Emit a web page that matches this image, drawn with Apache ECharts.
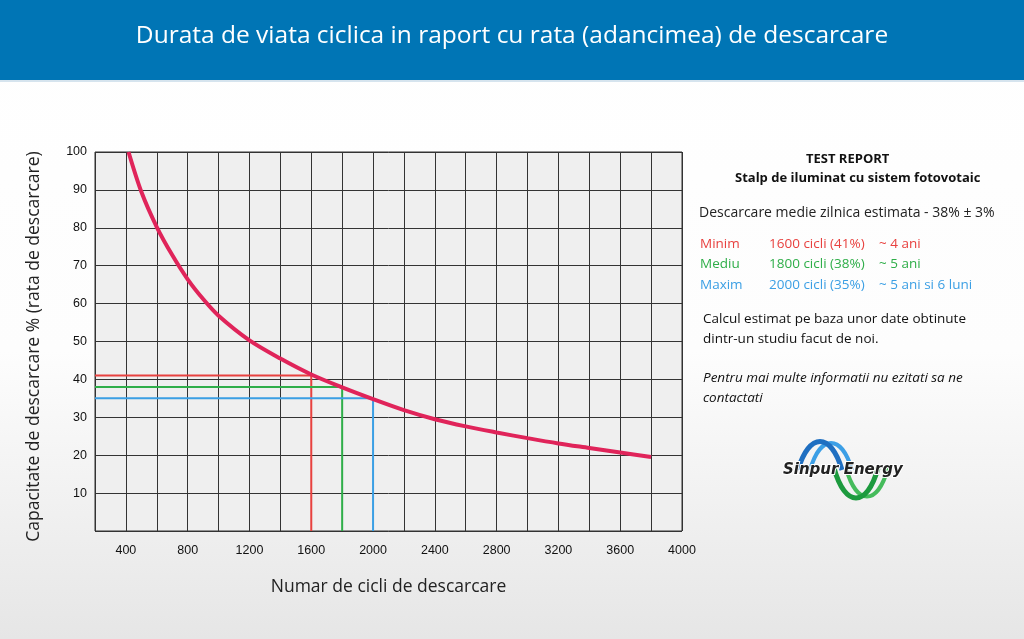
<!DOCTYPE html>
<html>
<head>
<meta charset="utf-8">
<script src="https://cdn.jsdelivr.net/npm/echarts@6/dist/echarts.min.js"></script>
<style>
  html, body { margin: 0; padding: 0; }
  #main { width: 1024px; height: 639px; }
</style>
</head>
<body>
<div id="main"></div>
<script>
// date
var cicli = [417, 500, 600, 700, 800, 900, 1000, 1200, 1400, 1600, 1800, 2000, 2200, 2400, 2600, 2800, 3000, 3200, 3400, 3600, 3800];
var capacitate = [100, 89.5, 80.2, 72.8, 66.4, 61.2, 56.8, 50.3, 45.5, 41.3, 37.9, 34.8, 31.9, 29.5, 27.6, 26.0, 24.5, 23.1, 21.9, 20.7, 19.5];

var refNume = ['Minim', 'Mediu', 'Maxim'];
var refCicli = [1600, 1800, 2000];
var refProcent = [41, 38, 35];
var refDurata = ['~ 4 ani', '~ 5 ani', '~ 5 ani si 6 luni'];
var refCulori = ['#e8413f', '#2fae49', '#3b9fe4'];

var xMin = 200, xMax = 4000;
var yTicks = [10, 20, 30, 40, 50, 60, 70, 80, 90, 100];

var myChart = echarts.init(document.getElementById('main'));

var curba = [];
for (var i = 0; i < cicli.length; i++) {
    curba.push([cicli[i], capacitate[i]]);
}

var series = [];
// liniile de referinta (orizontal pana la curba, apoi vertical in jos)
for (var k = 0; k < refCicli.length; k++) {
    series.push({
        type: 'line',
        name: refNume[k],
        symbol: 'none',
        z: 2,
        lineStyle: { color: refCulori[k], width: 2 },
        data: [[xMin, refProcent[k]], [refCicli[k], refProcent[k]], [refCicli[k], 0]]
    });
}
series.push({
    type: 'line',
    name: 'curba',
    symbol: 'none',
    smooth: 0.3,
    z: 3,
    lineStyle: { color: '#e0245a', width: 4 },
    data: curba
});

// textul din dreapta
var panou = [
    { type: 'text', left: 806, top: 153, style: { text: 'TEST REPORT', font: 'bold 13px "Open Sans"', fill: '#111' } },
    { type: 'text', left: 735, top: 172, style: { text: 'Stalp de iluminat cu sistem fotovotaic', font: 'bold 13px "Open Sans"', fill: '#111' } },
    { type: 'text', left: 699, top: 206, style: { text: 'Descarcare medie zilnica estimata - 38% \u00b1 3%', font: '14px "Open Sans"', fill: '#222' } },
    { type: 'text', left: 703, top: 312, style: { text: 'Calcul estimat pe baza unor date obtinute', font: '13.5px "Open Sans"', fill: '#111' } },
    { type: 'text', left: 703, top: 332, style: { text: 'dintr-un studiu facut de noi.', font: '13.5px "Open Sans"', fill: '#111' } },
    { type: 'text', left: 703, top: 371, style: { text: 'Pentru mai multe informatii nu ezitati sa ne', font: 'italic 13.5px "Open Sans"', fill: '#111' } },
    { type: 'text', left: 703, top: 391, style: { text: 'contactati', font: 'italic 13.5px "Open Sans"', fill: '#111' } }
];
for (var r = 0; r < refNume.length; r++) {
    var yy = 237 + r * 20.5;
    panou.push({ type: 'text', left: 700, top: yy, style: { text: refNume[r], font: '13.5px "Open Sans"', fill: refCulori[r] } });
    panou.push({ type: 'text', left: 769, top: yy, style: { text: refCicli[r] + ' cicli (' + refProcent[r] + '%)', font: '13.5px "Open Sans"', fill: refCulori[r] } });
    panou.push({ type: 'text', left: 879, top: yy, style: { text: refDurata[r], font: '13.5px "Open Sans"', fill: refCulori[r] } });
}

// logo Sinpur Energy (aproximativ, din curbe bezier)
function val(x1, y1, x2, y2, cy, culoare, lat) {
    return {
        type: 'bezierCurve',
        shape: { x1: x1, y1: y1, x2: x2, y2: y2, cpx1: x1 + (x2 - x1) * 0.25, cpy1: cy, cpx2: x1 + (x2 - x1) * 0.75, cpy2: cy },
        style: { stroke: culoare, lineWidth: lat, fill: null }
    };
}
var logo = [
    val(810, 470, 852, 470, 434, '#3c9fe6', 4),
    val(798, 470, 842, 470, 432, '#1f6fc1', 5),
    val(846, 468, 888, 468, 506, '#45bb5b', 4),
    val(834, 468, 878, 468, 508, '#1d9a3e', 5),
    { type: 'text', left: 782, top: 462, z: 10, style: { text: 'Sinpur Energy', font: 'italic bold 15px "DejaVu Sans"', fill: '#222', stroke: '#fff', lineWidth: 2 } }
];

var option = {
    backgroundColor: {
        type: 'linear', x: 0, y: 0, x2: 0, y2: 1,
        colorStops: [
            { offset: 0, color: '#ffffff' },
            { offset: 0.55, color: '#fdfdfd' },
            { offset: 1, color: '#e6e6e6' }
        ]
    },
    animation: false,
    graphic: [
        { type: 'rect', left: 0, top: 0, shape: { width: 1024, height: 80 }, style: { fill: '#0075b5' } },
        { type: 'rect', left: 0, top: 80, shape: { width: 1024, height: 2 }, style: { fill: '#d6e4ee' } },
        { type: 'text', left: 'center', top: 24, style: { text: 'Durata de viata ciclica in raport cu rata (adancimea) de descarcare', font: '24.5px "Open Sans"', fill: '#ffffff' } }
    ].concat(panou).concat(logo),
    grid: {
        left: 95, right: 342, top: 152, bottom: 108,
        show: true,
        backgroundColor: '#efefef',
        borderColor: '#333',
        borderWidth: 1
    },
    xAxis: {
        type: 'value',
        min: xMin,
        max: xMax,
        interval: 200,
        name: 'Numar de cicli de descarcare',
        nameLocation: 'middle',
        nameGap: 47,
        nameTextStyle: { fontFamily: 'Open Sans', fontSize: 17.5, color: '#222' },
        axisLine: { show: false },
        axisTick: { show: false },
        axisLabel: {
            margin: 13,
            fontFamily: 'Liberation Sans Narrow, Liberation Sans',
            fontSize: 12.5,
            color: '#111',
            formatter: function (v) {
                return (v % 400 === 0) ? String(v) : '';
            }
        },
        splitLine: { show: true, lineStyle: { color: '#333', width: 1 } }
    },
    yAxis: {
        type: 'value',
        min: 0,
        max: 100,
        interval: 10,
        name: 'Capacitate de descarcare % (rata de descarcare)',
        nameLocation: 'middle',
        nameGap: 52,
        nameTextStyle: { fontFamily: 'Open Sans', fontSize: 17.5, color: '#222', padding: [0, 10, 0, 0] },
        axisLine: { show: false },
        axisTick: { show: false },
        axisLabel: {
            margin: 8,
            fontFamily: 'Liberation Sans Narrow, Liberation Sans',
            fontSize: 12.5,
            color: '#111',
            formatter: function (v) {
                return yTicks.indexOf(v) >= 0 ? String(v) : '';
            }
        },
        splitLine: { show: true, lineStyle: { color: '#333', width: 1 } }
    },
    series: series
};

myChart.setOption(option);
</script>
</body>
</html>
